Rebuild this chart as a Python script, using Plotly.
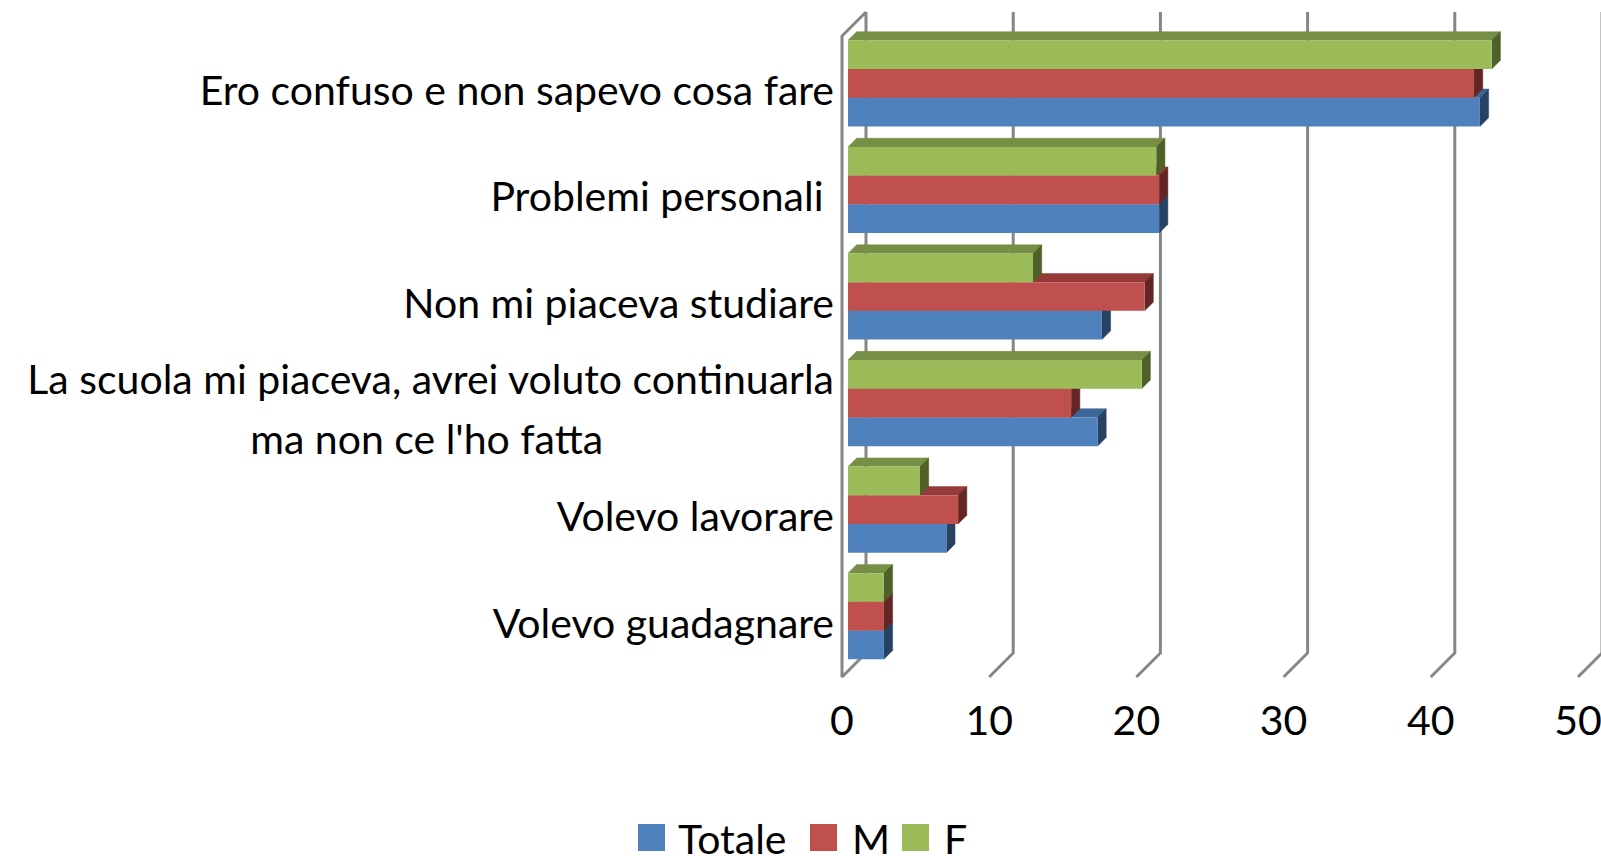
import plotly.graph_objects as go

categories = ["Volevo guadagnare", "Volevo lavorare",
              "La scuola mi piaceva, avrei voluto continuarla",
              "Non mi piaceva studiare", "Problemi personali", "Ero confuso e non sapevo cosa fare"]
totale = [2.44, 6.68, 16.95, 17.25, 21.14, 42.93]
maschi = [2.44, 7.48, 15.16, 20.15, 21.14, 42.53]
femmine = [2.44, 4.89, 19.95, 12.57, 20.94, 43.73]
x_ticks = [0, 10, 20, 30, 40, 50]

W, H = 1601, 856
PX_X = 14.72          # pixels per value unit
PX_Y = 106.56         # pixels per category
L, B = 840, 166
plot_h = H - B
Y0_PX = 616.2         # pixel of category 0
ymin = (Y0_PX - plot_h) / PX_Y
ymax = Y0_PX / PX_Y
xmin = (L - 842) / PX_X
xmax = (W - 842) / PX_X

base = 6 / PX_X
bar_h = 28.7 / PX_Y
dx, dy = 8.7 / PX_X, 8.7 / PX_Y
wall_dx, wall_dy = 24 / PX_X, 24 / PX_Y
y_bot = (Y0_PX - 677) / PX_Y
y_top_front = (Y0_PX - 36) / PX_Y
y_top_back = (Y0_PX - 12) / PX_Y

series = [
    ("Totale", totale, "#4F81BD", "#3C6798", "#274263", -1),
    ("M", maschi, "#C0504D", "#953A38", "#632624", 0),
    ("F", femmine, "#9BBB59", "#768E45", "#4F6128", 1),
]

fig = go.Figure()
GRID = dict(color="#868686", width=3)

# walls and gridlines
for t in x_ticks:
    xs = [t, t + wall_dx, t + wall_dx]
    ys = [y_bot, y_bot + wall_dy, y_top_back]
    if t == 0:
        xs = [t + wall_dx, t, t, t + wall_dx, t + wall_dx]
        ys = [y_top_back, y_top_front, y_bot, y_bot + wall_dy, y_top_back]
    fig.add_trace(go.Scatter(x=xs, y=ys, mode="lines", line=GRID, showlegend=False,
                             hoverinfo="skip", cliponaxis=False))


def face(xs, ys, color):
    fig.add_trace(go.Scatter(x=xs, y=ys, mode="lines", fill="toself", fillcolor=color,
                             line=dict(color=color, width=0.5), showlegend=False, hoverinfo="skip"))


# top faces, then side faces; fronts are real bars on an overlaying axis pair
for name, vals, front, top, side, pos in series:
    for i, v in enumerate(vals):
        y1 = i + pos * bar_h + bar_h / 2
        face([base, base + dx, base + v + dx, base + v], [y1, y1 + dy, y1 + dy, y1], top)
for name, vals, front, top, side, pos in series:
    for i, v in enumerate(vals):
        y0 = i + pos * bar_h - bar_h / 2
        y1 = y0 + bar_h
        xe = base + v
        face([xe, xe + dx, xe + dx, xe], [y0, y0 + dy, y1 + dy, y1], side)
for name, vals, front, top, side, pos in series:
    fig.add_trace(go.Bar(x=vals, y=list(range(len(categories))), base=base, orientation="h",
                         name=name, marker=dict(color=front, line=dict(width=0)),
                         xaxis="x2", yaxis="y2", showlegend=False))

# category labels as real tick labels, nudged to sit where the original has them
shift = 7 / PX_Y
line_gap = 30 / PX_Y
pad = "\u00a0" * 22
tickvals = [0 - shift, 1 - shift, 2 - shift - line_gap, 2 - shift + line_gap,
            3 - shift, 4 - shift, 5 - shift]
ticktext = [categories[0], categories[1], "ma non ce l'ho fatta" + pad, categories[2],
            categories[3], categories[4] + "\u00a0", categories[5]]

FONT = "Lato, 'Open Sans', sans-serif"
TICK = dict(family=FONT, size=41, color="#000000")

fig.update_layout(
    width=W, height=H, autosize=False, showlegend=False,
    margin=dict(l=L, r=0, t=0, b=B, pad=0),
    paper_bgcolor="#FFFFFF", plot_bgcolor="#FFFFFF",
    barmode="group", bargap=1 - 3 * bar_h, bargroupgap=0,
    xaxis=dict(range=[xmin, xmax], tickmode="array", tickvals=x_ticks,
               ticktext=[str(t) for t in x_ticks], showgrid=False, zeroline=False, showline=False,
               ticks="", ticklen=0, ticklabelstandoff=3, ticklabeloverflow="allow", tickfont=TICK),
    yaxis=dict(range=[ymin, ymax], tickmode="array", tickvals=tickvals, ticktext=ticktext,
               showgrid=False, zeroline=False, showline=False,
               ticks="", ticklen=0, ticklabelstandoff=5, tickfont=TICK),
    xaxis2=dict(range=[xmin, xmax], overlaying="x", visible=False),
    yaxis2=dict(range=[ymin, ymax], overlaying="y", visible=False),
)

# legend
legend_pos = [(638, 677), (810, 851), (902, 943)]
for (name, vals, front, top, side, pos), (sx, tx) in zip(series, legend_pos):
    fig.add_shape(type="rect", xref="paper", yref="paper", x0=(sx - L) / (W - L), x1=(sx + 27 - L) / (W - L),
                  y0=(plot_h - 851) / plot_h, y1=(plot_h - 824) / plot_h,
                  fillcolor=front, line=dict(width=0))
    fig.add_annotation(xref="paper", yref="paper", x=(tx - L) / (W - L), y=(plot_h - 838) / plot_h,
                       text=name, showarrow=False, xanchor="left", yanchor="middle",
                       font=TICK, borderpad=0)

fig.write_html("out.html", config={"displayModeBar": False},
               post_script="document.body.style.margin='0';document.documentElement.style.overflow='hidden';")
